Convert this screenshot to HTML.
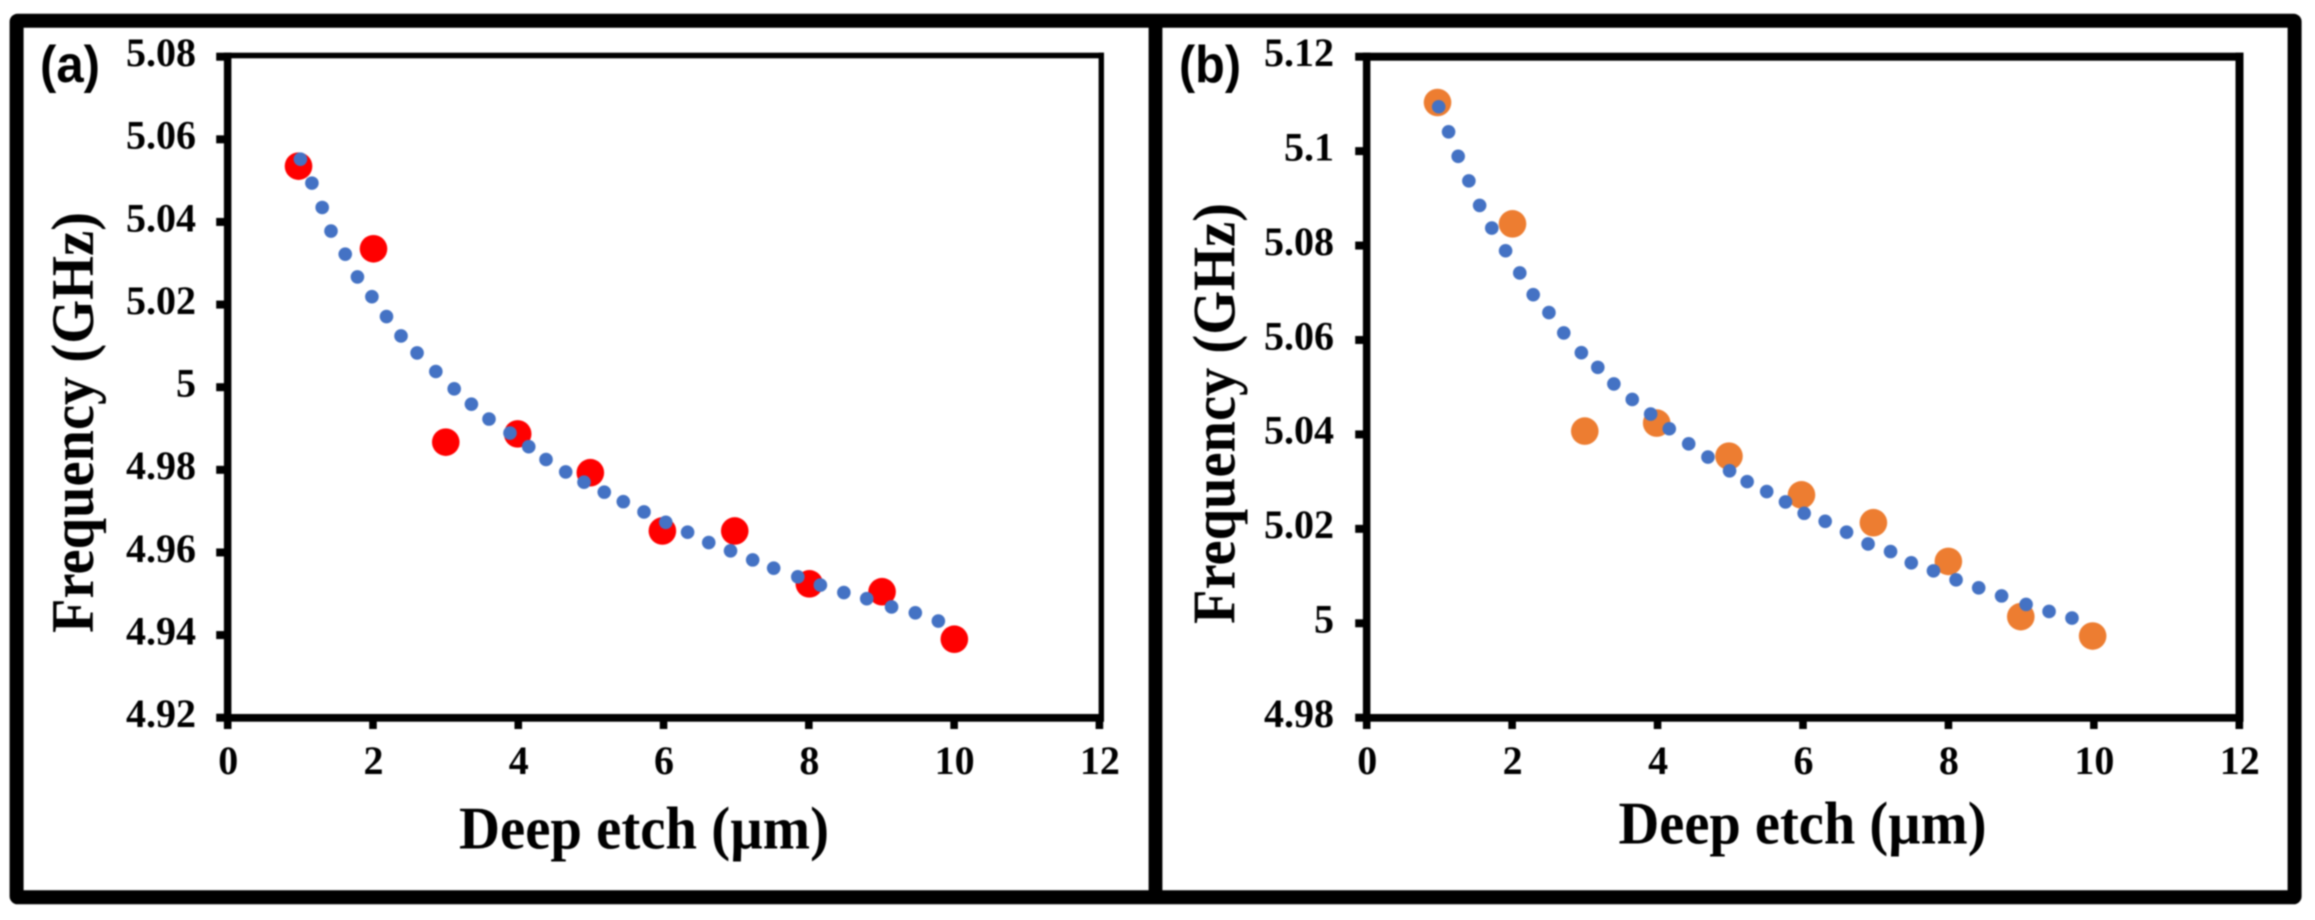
<!DOCTYPE html>
<html lang="en">
<head>
<meta charset="utf-8">
<title>Frequency vs deep etch</title>
<style>
  html, body { margin: 0; padding: 0; background: #fff; }
  #figure { display: block; width: 2315px; height: 920px; filter: blur(0.8px); }
  .tick { font: bold 40px "Liberation Serif", serif; fill: #000; }
  .title { font: bold 60px "Liberation Serif", serif; fill: #000; }
  .panel-label { font: bold 52px "Liberation Sans", sans-serif; fill: #000; }
</style>
</head>
<body>
<svg id="figure" xmlns="http://www.w3.org/2000/svg" width="2315" height="920" viewBox="0 0 2315 920">
  <rect width="2315" height="920" fill="#fff"/>
  <rect x="16.6" y="20.7" width="2278" height="876.6" fill="none" stroke="#000" stroke-width="14" rx="1"/>
  <rect x="1148.6" y="14" width="13.8" height="890" fill="#000"/>

  <g id="panel-a"></g>
  <g id="panel-b"></g>

  <text class="panel-label" x="40" y="82" textLength="60" lengthAdjust="spacingAndGlyphs">(a)</text>
  <text class="panel-label" x="1179" y="82" textLength="62" lengthAdjust="spacingAndGlyphs">(b)</text>

  <text class="title" text-anchor="middle" transform="translate(93,422.5) rotate(-90)" textLength="421" lengthAdjust="spacingAndGlyphs">Frequency (GHz)</text>
  <text class="title" text-anchor="middle" transform="translate(1234.7,413.5) rotate(-90)" textLength="421" lengthAdjust="spacingAndGlyphs">Frequency (GHz)</text>
  <text class="title" x="459" y="848.3" textLength="370" lengthAdjust="spacingAndGlyphs">Deep etch (µm)</text>
  <text class="title" x="1618.5" y="843.3" textLength="368" lengthAdjust="spacingAndGlyphs">Deep etch (µm)</text>
</svg>

<script>
// Shared x axis
const xTicks = [0, 2, 4, 6, 8, 10, 12];

// Panel (a)
const aYTicks = [4.92, 4.94, 4.96, 4.98, 5, 5.02, 5.04, 5.06, 5.08];
const aPointX = [0.975, 2.007, 3.002, 3.992, 4.992, 5.984, 6.98, 8.007, 9.008, 10.003];
const aPointY = [5.0535, 5.0335, 4.9867, 4.9887, 4.9793, 4.9652, 4.9652, 4.9524, 4.9505, 4.939];
const aTrendX = [1.001, 1.159, 1.301, 1.422, 1.618, 1.786, 1.985, 2.186, 2.386, 2.607, 2.865, 3.118, 3.355, 3.597, 3.886, 4.144, 4.382, 4.653, 4.905, 5.184, 5.446, 5.731, 6.031, 6.331, 6.622, 6.922, 7.227, 7.516, 7.848, 8.159, 8.482, 8.797, 9.139, 9.466, 9.783];
const aTrendY = [5.0552, 5.0494, 5.0435, 5.0378, 5.0322, 5.0267, 5.0219, 5.0171, 5.0124, 5.0083, 5.0038, 4.9996, 4.9959, 4.9923, 4.9889, 4.9856, 4.9825, 4.9795, 4.977, 4.9746, 4.9723, 4.9698, 4.9673, 4.9649, 4.9624, 4.9604, 4.9582, 4.9562, 4.9541, 4.9521, 4.9503, 4.9488, 4.9468, 4.9454, 4.9434];

// Panel (b)
const bYTicks = [4.98, 5, 5.02, 5.04, 5.06, 5.08, 5.1, 5.12];
const bPointX = [0.974, 2.005, 2.999, 3.988, 4.982, 5.979, 6.968, 7.999, 8.995, 9.983];
const bPointY = [5.1103, 5.0846, 5.0407, 5.0424, 5.0354, 5.0272, 5.0213, 5.0131, 5.0014, 4.9973];
const bTrendX = [0.99, 1.126, 1.258, 1.405, 1.553, 1.72, 1.91, 2.105, 2.29, 2.506, 2.71, 2.952, 3.178, 3.399, 3.652, 3.905, 4.161, 4.428, 4.693, 4.99, 5.232, 5.501, 5.759, 6.016, 6.305, 6.599, 6.895, 7.204, 7.489, 7.794, 8.105, 8.416, 8.731, 9.068, 9.384, 9.699];
const bTrendY = [5.1094, 5.1041, 5.0989, 5.0937, 5.0885, 5.0837, 5.0789, 5.0742, 5.0696, 5.0658, 5.0615, 5.0573, 5.0542, 5.0507, 5.0474, 5.0443, 5.0412, 5.038, 5.0352, 5.0323, 5.03, 5.0279, 5.0257, 5.0233, 5.0216, 5.0193, 5.0168, 5.0152, 5.0128, 5.0111, 5.0092, 5.0075, 5.0058, 5.004, 5.0025, 5.0011];

const SVG_NS = 'http://www.w3.org/2000/svg';
const BLUE = '#4472C4';

function shape(parent, tag, attrs) {
  const el = document.createElementNS(SVG_NS, tag);
  for (const k in attrs) el.setAttribute(k, attrs[k]);
  parent.appendChild(el);
  return el;
}

function drawPanel(o) {
  const g = document.getElementById(o.id);
  const sx = v => o.left + (v - 0) * (o.right - o.left) / 12;
  const sy = v => o.bottom - (v - o.yMin) * (o.bottom - o.top) / (o.yMax - o.yMin);

  // axes box
  const topAxis = shape(g, 'rect', { x: o.left - 3.8, y: o.topY0, width: o.rightX1 - o.left + 3.8, height: o.topH, fill: '#000' });
  
  
  const rightAxis = shape(g, 'rect', { x: o.rightX1 - o.rightW, y: o.topY0, width: o.rightW, height: 721.7 - o.topY0, fill: '#000' });
  
  
  const leftAxis = shape(g, 'rect', { x: o.left - 3.8, y: o.topY0, width: 7.5, height: 721.7 - o.topY0, fill: '#000' });
  
  
  const bottomAxis = shape(g, 'rect', { x: o.left - 3.8, y: 714, width: o.rightX1 - o.left + 3.8, height: 7.7, fill: '#000' });
  
  

  // y ticks
  o.yTicks.forEach(v => {
    const t = shape(g, 'rect', { x: o.left - 11.5, y: sy(v) - 4, width: 8, height: 8, fill: '#000' });
    
    
    const l = shape(g, 'text', { class: 'tick', x: o.labelRight, y: sy(v) + 9.3, 'text-anchor': 'end' });
    
    
    l.textContent = String(v);
  });

  // x ticks
  xTicks.forEach(v => {
    const t = shape(g, 'rect', { x: sx(v) - 3.8, y: 721, width: 7.6, height: 8, fill: '#000' });
    
    
    const l = shape(g, 'text', { class: 'tick', x: sx(v) + 0.5, y: 774, 'text-anchor': 'middle' });
    
    
    l.textContent = String(v);
  });

  // measured points
  o.pointX.forEach((v, i) => {
    const c = shape(g, 'circle', { cx: sx(v), cy: sy(o.pointY[i]), r: 13.8, fill: o.pointColor });
    
    
  });

  // dotted trend line
  o.trendX.forEach((v, i) => {
    const c = shape(g, 'circle', { cx: sx(v), cy: sy(o.trendY[i]), r: 6.8, fill: BLUE });
    
    
  });
}

drawPanel({
  id: 'panel-a', left: 227.7, right: 1099.4, top: 56.7, bottom: 717.7,
  yMin: 4.92, yMax: 5.08, topY0: 52.7, topH: 5.6, rightX1: 1104, rightW: 5.4, labelRight: 196,
  yTicks: aYTicks, pointX: aPointX, pointY: aPointY, trendX: aTrendX, trendY: aTrendY, pointColor: '#FF0000'
});
drawPanel({
  id: 'panel-b', left: 1366.7, right: 2239.3, top: 56.7, bottom: 717.7,
  yMin: 4.98, yMax: 5.12, topY0: 52.7, topH: 8, rightX1: 2243.5, rightW: 8, labelRight: 1334,
  yTicks: bYTicks, pointX: bPointX, pointY: bPointY, trendX: bTrendX, trendY: bTrendY, pointColor: '#ED7D31'
});
</script>
</body>
</html>
